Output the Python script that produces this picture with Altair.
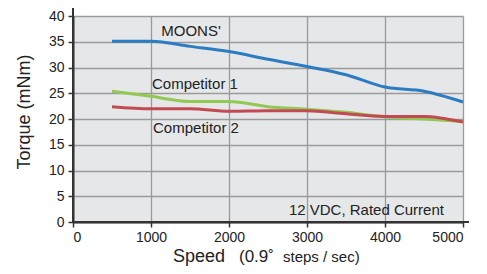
import altair as alt
import pandas as pd

speeds = [500, 1000, 1500, 2000, 2500, 3000, 3500, 4000, 4500, 5000]
moons = [35.1, 35.1, 34.1, 33.1, 31.6, 30.2, 28.6, 26.2, 25.4, 23.3]
comp1 = [25.4, 24.4, 23.4, 23.4, 22.4, 21.9, 21.3, 20.4, 20.0, 19.5]
comp2 = [22.4, 22.0, 22.0, 21.5, 21.6, 21.6, 21.0, 20.5, 20.5, 19.4]
series_names = ["MOONS'", "Competitor 1", "Competitor 2"]
series_colors = ["#2b7cc2", "#93c852", "#c24a52"]

label_text = ["MOONS'", "Competitor 1", "Competitor 2", "12 VDC, Rated Current"]
label_x = [1513, 1013, 1026, 4756]
label_y = [37.0, 26.8, 18.3, 2.3]
label_align = ["center", "left", "left", "right"]

rows = []
for name, vals in zip(series_names, [moons, comp1, comp2]):
    for s, v in zip(speeds, vals):
        rows.append({"speed": s, "torque": v, "series": name})
df = pd.DataFrame(rows)

W, H = 390, 206
FONT = "Liberation Sans"

xs = alt.X("speed:Q", scale=alt.Scale(domain=[0, 5000], nice=False),
           axis=alt.Axis(values=[0, 1000, 2000, 3000, 4000, 5000], format="d", title=None))
ys = alt.Y("torque:Q", scale=alt.Scale(domain=[0, 40], nice=False),
           axis=alt.Axis(values=list(range(0, 45, 5)), format="d", title=None))

lines = alt.Chart(df).mark_line(strokeWidth=3, interpolate="monotone").encode(
    x=xs, y=ys,
    color=alt.Color("series:N", scale=alt.Scale(domain=series_names, range=series_colors), legend=None),
)

labels_df = pd.DataFrame({"t": label_text, "speed": label_x, "torque": label_y})
label_layers = []
for i in range(len(label_text)):
    label_layers.append(
        alt.Chart(labels_df.iloc[[i]]).mark_text(
            font=FONT, fontSize=15, color="#222222", align=label_align[i], baseline="middle"
        ).encode(x=xs, y=ys, text="t:N")
    )

yext = alt.Chart(pd.DataFrame({"a": [0]})).mark_rule(color="#333333", strokeWidth=2).encode(
    x=alt.value(0), y=alt.value(-8), y2=alt.value(H))
xext = alt.Chart(pd.DataFrame({"a": [0]})).mark_rule(color="#333333", strokeWidth=2).encode(
    x=alt.value(0), x2=alt.value(W + 6), y=alt.value(H))

TY = 246
t_speed = alt.Chart(pd.DataFrame({"t": ["Speed"]})).mark_text(
    font=FONT, fontSize=18, color="#222222", align="left", baseline="alphabetic"
).encode(x=alt.value(100), y=alt.value(TY), text="t:N")
t_deg = alt.Chart(pd.DataFrame({"t": ["(0.9˚"]})).mark_text(
    font=FONT, fontSize=17, color="#222222", align="left", baseline="alphabetic"
).encode(x=alt.value(166), y=alt.value(TY), text="t:N")
t_steps = alt.Chart(pd.DataFrame({"t": ["steps / sec)"]})).mark_text(
    font=FONT, fontSize=15, color="#222222", align="left", baseline="alphabetic"
).encode(x=alt.value(210), y=alt.value(TY), text="t:N")
t_ytitle = alt.Chart(pd.DataFrame({"t": ["Torque  (mNm)"]})).mark_text(
    font=FONT, fontSize=18, color="#222222", align="center", baseline="middle", angle=270
).encode(x=alt.value(-48), y=alt.value(96), text="t:N")

chart = alt.layer(lines, *label_layers, yext, xext, t_speed, t_deg, t_steps, t_ytitle).properties(
    width=W, height=H,
    autosize=alt.AutoSizeParams(type="none"),
    padding={"left": 65, "top": 8, "right": 16, "bottom": 44},
).configure_view(
    fill="#e6e7e9", stroke=None
).configure_axis(
    domainColor="#333333", domainWidth=2,
    tickColor="#333333", tickWidth=1.5, tickSize=5,
    gridColor="#9a9a9a", gridWidth=1.3,
    labelFont=FONT, labelFontSize=14, labelColor="#222222", labelPadding=3,
    labelOverlap=False,
).configure_axisY(labelPadding=4)

chart.save("out.html", embed_options={"renderer": "svg", "actions": False})
